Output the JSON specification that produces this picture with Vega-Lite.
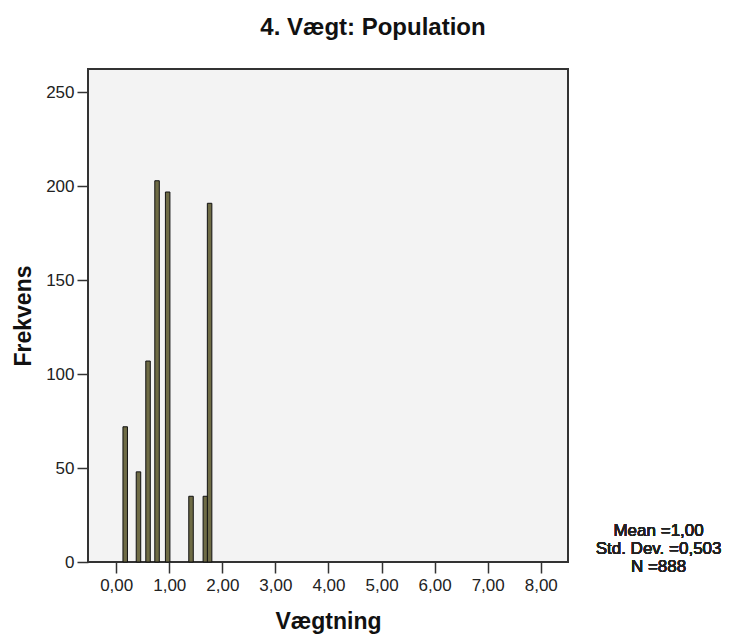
{
  "$schema": "https://vega.github.io/schema/vega-lite/v6.json",
  "width": 480,
  "height": 493,
  "autosize": {"type": "none"},
  "padding": {"left": 88, "top": 69, "right": 171, "bottom": 73},
  "background": "white",
  "config": {
    "font": "Liberation Sans",
    "view": {"fill": "#f3f3f3", "stroke": "#333333", "strokeWidth": 2}
  },
  "title": {
    "text": "4. Vægt: Population",
    "fontSize": 24,
    "fontWeight": "bold",
    "color": "#111111",
    "anchor": "middle",
    "dx": 45,
    "offset": 29
  },
  "data": {
    "values": [
      {"weight": 0.17, "count": 72},
      {"weight": 0.42, "count": 48},
      {"weight": 0.60, "count": 107},
      {"weight": 0.77, "count": 203},
      {"weight": 0.97, "count": 197},
      {"weight": 1.41, "count": 35},
      {"weight": 1.68, "count": 35},
      {"weight": 1.76, "count": 191}
    ]
  },
  "layer": [
    {
      "mark": {"type": "bar", "size": 4.5, "fill": "#6e6b45", "stroke": "#111111", "strokeWidth": 1},
      "encoding": {
        "x": {
          "field": "weight",
          "type": "quantitative",
          "scale": {"domain": [-0.437, 8.419], "nice": false, "zero": false},
          "axis": {
            "title": "Vægtning",
            "titleFontSize": 23,
            "titleFontWeight": "bold",
            "titleColor": "#111111",
            "titlePadding": 17,
            "values": [0, 1, 2, 3, 4, 5, 6, 7, 8],
            "labelExpr": "replace(format(datum.value, '.2f'), '.', ',')",
            "labelFontSize": 17,
            "labelColor": "#222222",
            "labelPadding": 4,
            "domain": false,
            "grid": false,
            "tickColor": "#333333",
            "tickWidth": 1.5,
            "tickSize": 11
          }
        },
        "y": {
          "field": "count",
          "type": "quantitative",
          "scale": {"domain": [0, 262.5], "nice": false},
          "axis": {
            "title": "Frekvens",
            "titleFontSize": 23,
            "titleFontWeight": "bold",
            "titleColor": "#111111",
            "titlePadding": 10,
            "values": [0, 50, 100, 150, 200, 250],
            "labelFontSize": 17,
            "labelColor": "#222222",
            "labelPadding": 3,
            "domain": false,
            "grid": false,
            "tickColor": "#333333",
            "tickWidth": 1.5,
            "tickSize": 11
          }
        }
      }
    },
    {
      "mark": {"type": "text", "align": "center", "baseline": "alphabetic", "fontSize": 17, "fontWeight": "normal", "lineHeight": 18, "fill": "#222222"},
      "encoding": {
        "x": {"datum": 10.22},
        "y": {"datum": 14.1},
        "text": {"value": ["Mean =1,00", "Std. Dev. =0,503", "N =888"]}
      }
    }
  ]
}
